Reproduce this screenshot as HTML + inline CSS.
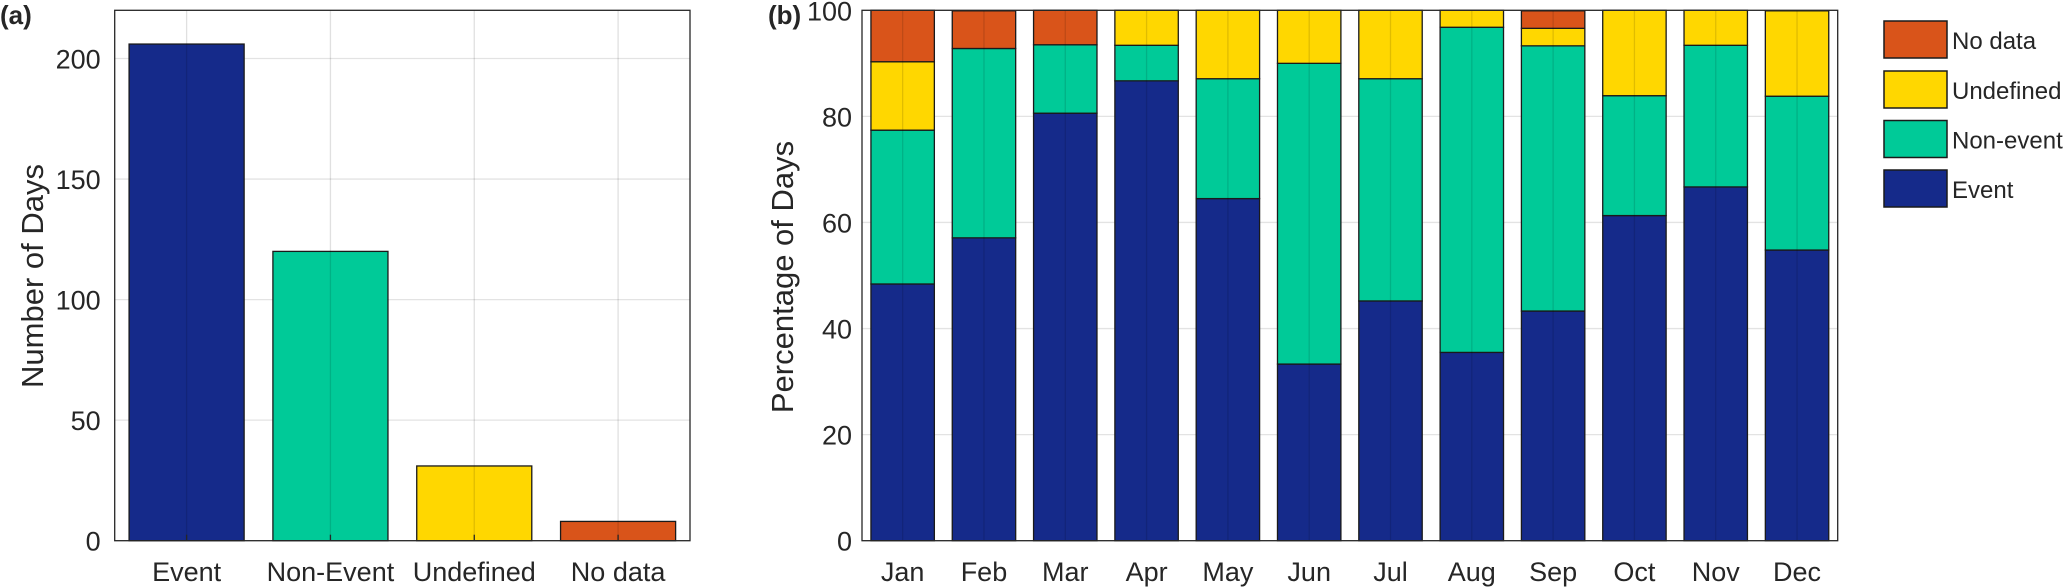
<!DOCTYPE html>
<html><head><meta charset="utf-8"><style>
html,body{margin:0;padding:0;background:#fff}
svg{display:block}
text{font-family:"Liberation Sans",sans-serif;fill:#262626}
.tl{font-size:27px}
.tt{font-family:"Liberation Sans",sans-serif;font-size:31px}
.lg{font-size:24px}
</style></head><body>
<svg id="fig" width="2066" height="588" viewBox="0 0 2066 588" xmlns="http://www.w3.org/2000/svg">
<g id="pa"></g>
<g id="pb"></g>
<text x="0" y="24" style="font-family:'Liberation Sans',sans-serif;font-size:26px;font-weight:bold">(a)</text>
<text x="768" y="24" style="font-family:'Liberation Sans',sans-serif;font-size:26px;font-weight:bold">(b)</text>
</svg>
<script>
const catsA=['Event','Non-Event','Undefined','No data'];
const valsA=[206,120,31,8];
const ticksA=[0,50,100,150,200];
const months=['Jan','Feb','Mar','Apr','May','Jun','Jul','Aug','Sep','Oct','Nov','Dec'];
const eventPct=[48.4,57.1,80.6,86.7,64.5,33.3,45.2,35.5,43.3,61.3,66.7,54.8];
const nonEventPct=[29.0,35.7,12.9,6.7,22.6,56.7,41.9,61.3,50.0,22.6,26.7,29.0];
const undefinedPct=[12.9,0,0,6.7,12.9,10.0,12.9,3.2,3.3,16.1,6.7,16.1];
const noDataPct=[9.7,7.1,6.5,0,0,0,0,0,3.3,0,0,0];
const ticksB=[0,20,40,60,80,100];
const colA=['#152a8a','#00ca98','#ffd700','#d9541a'];
const NS='http://www.w3.org/2000/svg';
function mk(p,tag,at,txt){const e=document.createElementNS(NS,tag);for(const k in at)e.setAttribute(k,at[k]);if(txt!==undefined)e.textContent=txt;p.appendChild(e);return e;}
// Panel A
const pa=document.getElementById('pa');
const aL=114.7,aR=690,aT=10.3,aB=540.7;
const xA=i=>aL+(i+0.5)*(aR-aL)/catsA.length;
const yA=v=>aB-(v/220)*(aB-aT);
ticksA.forEach(t=>{
 const g=mk(pa,'line',{x1:aL,x2:aR,y1:yA(t),y2:yA(t),stroke:'#e3e3e3','stroke-width':1.3});
 
 
 const l=mk(pa,'text',{x:aL-14,y:yA(t)+10,'text-anchor':'end',class:'tl'},String(t));
 
 
});
const bwA=0.8*(aR-aL)/catsA.length;
valsA.forEach((v,i)=>{
 const r=mk(pa,'rect',{x:xA(i)-bwA/2,y:yA(v),width:bwA,height:aB-yA(v),fill:colA[i],stroke:'#1a1a1a','stroke-width':1.3});
 
 
 const gl=mk(pa,'line',{x1:xA(i),x2:xA(i),y1:aT,y2:aB,stroke:'#000','stroke-opacity':0.12,'stroke-width':1.3});
 
 
 const tk=mk(pa,'line',{x1:xA(i),x2:xA(i),y1:aB,y2:aB-6,stroke:'#262626','stroke-width':1.3});
 
 
 const l=mk(pa,'text',{x:xA(i),y:581,'text-anchor':'middle',class:'tl'},catsA[i]);
 
 
});
const fa=mk(pa,'rect',{x:aL,y:aT,width:aR-aL,height:aB-aT,fill:'none',stroke:'#262626','stroke-width':1.3});


const ta=mk(pa,'text',{x:0,y:0,'text-anchor':'middle',class:'tt',transform:'translate(43,276) rotate(-90)'},'Number of Days');


// Panel B
const pb=document.getElementById('pb');
const bL=862,bR=1837.7,bT=10.3,bB=540.7;
const xB=i=>bL+(i+0.5)*(bR-bL)/months.length;
const yB=v=>bB-(v/100)*(bB-bT);
ticksB.forEach(t=>{
 const g=mk(pb,'line',{x1:bL,x2:bR,y1:yB(t),y2:yB(t),stroke:'#e3e3e3','stroke-width':1.3});
 
 
 const l=mk(pb,'text',{x:bL-10,y:yB(t)+10,'text-anchor':'end',class:'tl'},String(t));
 
 
});
const series=[['event',eventPct,colA[0]],['non-event',nonEventPct,colA[1]],['undefined',undefinedPct,colA[2]],['no-data',noDataPct,colA[3]]];
const bwB=0.78*(bR-bL)/months.length;
months.forEach((m,i)=>{
 let base=0;
 series.forEach(([nm,arr,c])=>{
  const v=arr[i];
  if(v>0){
   const top=Math.min(100,base+v);
   const r=mk(pb,'rect',{x:xB(i)-bwB/2,y:yB(top),width:bwB,height:yB(base)-yB(top),fill:c,stroke:'#1a1a1a','stroke-width':1.3});
   
   
  }
  base+=v;
 });
 const gl=mk(pb,'line',{x1:xB(i),x2:xB(i),y1:bT,y2:bB,stroke:'#000','stroke-opacity':0.12,'stroke-width':1.3});
 
 
 const l=mk(pb,'text',{x:xB(i),y:581,'text-anchor':'middle',class:'tl'},m);
 
 
});
const fb=mk(pb,'rect',{x:bL,y:bT,width:bR-bL,height:bB-bT,fill:'none',stroke:'#262626','stroke-width':1.3});


const tb=mk(pb,'text',{x:0,y:0,'text-anchor':'middle',class:'tt',transform:'translate(793,277) rotate(-90)'},'Percentage of Days');


// Legend
const leg=[['No data',colA[3],21],['Undefined',colA[2],71],['Non-event',colA[1],120.5],['Event',colA[0],170]];
leg.forEach(([t,c,y])=>{
 const r=mk(pb,'rect',{x:1884,y:y,width:63,height:37,fill:c,stroke:'#1a1a1a','stroke-width':1.5});
 
 
 const l=mk(pb,'text',{x:1952,y:y+28,class:'lg'},t);
 
 
});
</script>
</body></html>
